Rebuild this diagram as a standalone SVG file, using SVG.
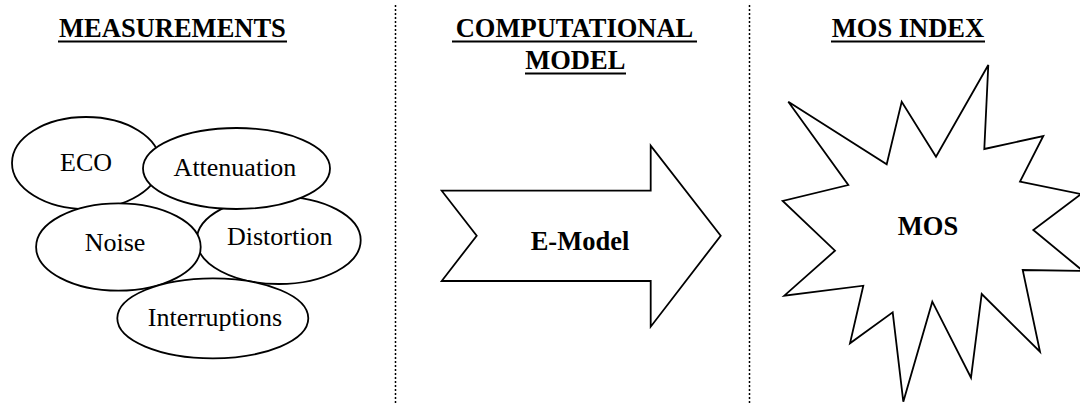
<svg xmlns="http://www.w3.org/2000/svg" width="1080" height="403" viewBox="0 0 1080 403">
<style>
.shape{fill:#fff;stroke:#000;stroke-width:1.8;stroke-linejoin:miter}
.t{font-family:"Liberation Serif","Times New Roman",serif;font-size:26px;fill:#000;text-anchor:middle}
.h{font-family:"Liberation Serif","Times New Roman",serif;font-size:26.5px;font-weight:bold;fill:#000;text-anchor:middle}
.b{font-weight:bold}
.ul{stroke:#000;stroke-width:2}
.sep{stroke:#000;stroke-width:1.5;stroke-dasharray:2 2;fill:none}
</style>
<g id="separators">
<line class="sep" x1="395.5" y1="5" x2="395.5" y2="403"/>
<line class="sep" x1="749.5" y1="5" x2="749.5" y2="403"/>
</g>
<g id="headings">
<text class="h" x="172.5" y="36.5">MEASUREMENTS</text>
<line class="ul" x1="58" y1="41.5" x2="287" y2="41.5"/>
<text class="h" x="574.5" y="36.5">COMPUTATIONAL</text>
<line class="ul" x1="452" y1="41.5" x2="697" y2="41.5"/>
<text class="h" x="575.3" y="68.5">MODEL</text>
<line class="ul" x1="525" y1="73.5" x2="626" y2="73.5"/>
<text class="h" x="908" y="36.5">MOS INDEX</text>
<line class="ul" x1="831" y1="41.5" x2="985" y2="41.5"/>
</g>
<g id="node-eco">
<ellipse class="shape" cx="86" cy="163" rx="74" ry="46"/>
<text class="t" x="86" y="171">ECO</text>
</g>
<g id="node-distortion">
<ellipse class="shape" cx="278.7" cy="240.3" rx="82" ry="43.7"/>
<text class="t" x="279.7" y="245">Distortion</text>
</g>
<g id="node-attenuation">
<ellipse class="shape" cx="236.5" cy="168.5" rx="93.5" ry="40.5"/>
<text class="t" x="235" y="176">Attenuation</text>
</g>
<g id="node-noise">
<ellipse class="shape" cx="118.4" cy="247" rx="82.3" ry="43.7"/>
<text class="t" x="115" y="251">Noise</text>
</g>
<g id="node-interruptions">
<ellipse class="shape" cx="212.8" cy="318.3" rx="95.5" ry="40"/>
<text class="t" x="215" y="326">Interruptions</text>
</g>
<g id="node-emodel">
<polygon class="shape" points="441.7,190.7 650.7,190.7 650.7,145.7 720.7,235.7 650.7,326.7 650.7,281 441.7,281 476.7,235.7"/>
<text class="h" x="580" y="250">E-Model</text>
</g>
<g id="node-mos">
<polygon class="shape" points="788.3,101.7 886.7,164.3 901.7,101.7 936,156.7 988.3,65 984.3,149 1043.3,136 1020,181.7 1081,194 1033.3,230 1083,271 1022.7,270 1040,351.7 981.7,294 971,377.7 932.3,301.7 903.3,401.7 892.7,312.3 850,343.3 863.3,285.7 784.3,295.7 835,250.7 782.7,201 848.3,185"/>
<text class="h" x="928" y="235">MOS</text>
</g>
</svg>
